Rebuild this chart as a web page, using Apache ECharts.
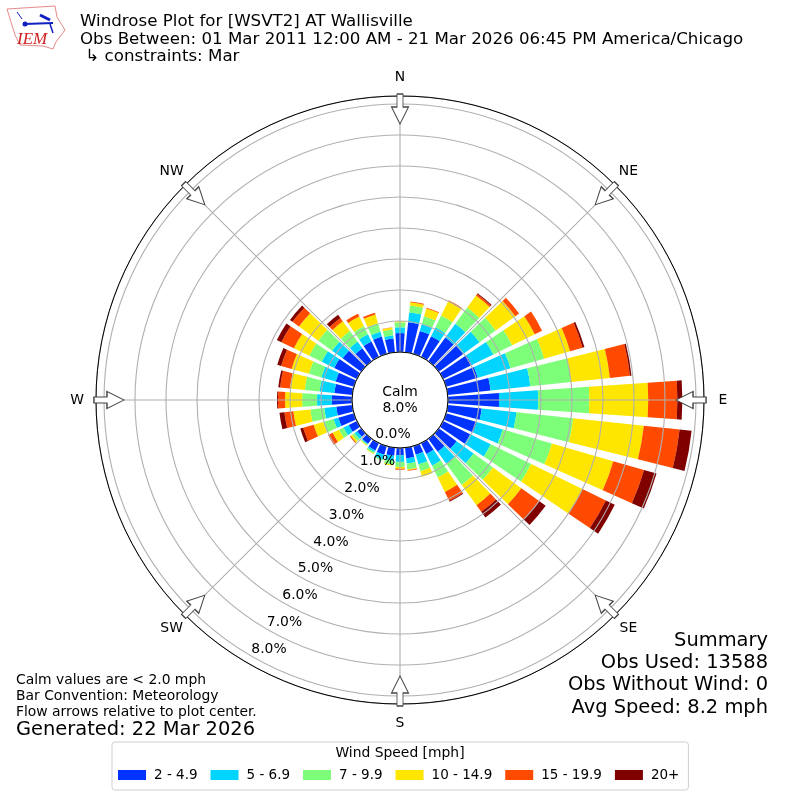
<!DOCTYPE html>
<html><head><meta charset="utf-8">
<style>html,body{margin:0;padding:0;background:#fff}#c{width:800px;height:800px}</style>
<script src="https://cdn.jsdelivr.net/npm/echarts@6/dist/echarts.min.js"></script>
</head><body><div id="c"></div>
<script>
const directions = Array.from({length:36},(_, i)=>String(i*10));
const speedBins = ['2 - 4.9','5 - 6.9','7 - 9.9','10 - 14.9','15 - 19.9','20+'];
const binColors = ['#0033ff','#00d4ff','#7dff7a','#ffe600','#ff4a00','#800000'];
const s2to5   = [0.61,0.97,0.77,0.74,0.94,0.97,1.03,1.06,1.39,1.65,1.10,1.03,0.97,0.71,0.52,0.39,0.29,0.35,0.23,0.26,0.29,0.26,0.20,0.16,0.29,0.52,0.52,0.65,0.58,0.61,0.81,0.74,0.52,0.55,0.58,0.45];
const s5to7   = [0.19,0.32,0.23,0.32,0.55,0.65,0.77,1.10,1.29,1.26,1.13,0.87,0.74,0.68,0.48,0.42,0.32,0.16,0.22,0.16,0.16,0.06,0.03,0.10,0.19,0.16,0.39,0.48,0.48,0.48,0.45,0.42,0.26,0.26,0.16,0.10];
const s7to10  = [0.16,0.23,0.26,0.42,0.65,0.65,0.68,1.13,1.32,1.65,1.84,1.65,1.45,0.77,0.84,0.42,0.23,0.19,0.16,0.13,0.03,0.05,0.03,0.10,0.16,0.35,0.45,0.48,0.48,0.42,0.45,0.55,0.42,0.29,0.29,0.19];
const s10to15 = [0.03,0.10,0.26,0.52,0.48,0.78,0.81,0.87,1.26,1.90,2.29,2.06,1.84,1.13,0.81,0.52,0.19,0.03,0.06,0.03,0.00,0.02,0.02,0.06,0.23,0.32,0.55,0.55,0.48,0.58,0.55,0.77,0.39,0.35,0.29,0.06];
const s15to20 = [0.00,0.03,0.03,0.03,0.06,0.15,0.26,0.42,0.65,0.94,1.16,1.03,0.84,0.71,0.26,0.32,0.00,0.02,0.03,0.00,0.00,0.00,0.00,0.03,0.16,0.35,0.29,0.23,0.32,0.35,0.45,0.26,0.13,0.10,0.06,0.01];
const s20plus = [0.00,0.00,0.00,0.00,0.03,0.00,0.00,0.06,0.05,0.16,0.39,0.42,0.32,0.26,0.23,0.03,0.00,0.00,0.00,0.00,0.00,0.00,0.00,0.00,0.00,0.10,0.16,0.03,0.06,0.13,0.16,0.10,0.13,0.00,0.00,0.00];
const seriesValues = [s2to5,s5to7,s7to10,s10to15,s15to20,s20plus];
const compassAngles = [0,45,90,135,180,225,270,315];
const compassLabels = ['N','NE','E','SE','S','SW','W','NW'];
const radiusTicks = [0,1,2,3,4,5,6,7,8];
const arrowRadius = 7.84;
const compassLabelRadius = 8.87;
const titleLines = ['Windrose Plot for [WSVT2] AT Wallisville','Obs Between: 01 Mar 2011 12:00 AM - 21 Mar 2026 06:45 PM America/Chicago',' \u21b3 constraints: Mar'];
const noteLines = ['Calm values are < 2.0 mph','Bar Convention: Meteorology','Flow arrows relative to plot center.'];
const generated = 'Generated: 22 Mar 2026';
const summaryLines = ['Summary','Obs Used: 13588','Obs Without Wind: 0','Avg Speed: 8.2 mph'];
const calmLines = ['Calm','8.0%'];

const FF = 'DejaVu Sans';
const RMAX = 8.258;
const GRID = '#b0b0b0';
const chart = echarts.init(document.getElementById('c'), null, {renderer:'canvas'});
const arrowPath = 'path://M8.5 0L17 17L11.5 17L11.5 30L5.5 30L5.5 17L0 17Z';
const txt = (x,y,text,size,align) => ({type:'text',x,y,z:20,silent:true,style:{text,fontFamily:FF,fontSize:size,fill:'#000',align:align||'left',verticalAlign:'middle'}});
const logo = [
 {type:'polygon',z:20,silent:true,shape:{points:[[7,9],[55,6],[57,17],[65,30],[56,42],[53,49],[43,46],[20,45],[15,35]]},style:{fill:'#fff',stroke:'#e68a8a',lineWidth:1}},
 {type:'line',z:20,silent:true,shape:{x1:25,y1:24,x2:53,y2:23},style:{stroke:'#1020c0',lineWidth:2}},
 {type:'line',z:20,silent:true,shape:{x1:40,y1:15,x2:50,y2:20},style:{stroke:'#1020c0',lineWidth:3}},
 {type:'line',z:20,silent:true,shape:{x1:17,y1:12,x2:22,y2:19},style:{stroke:'#1020c0',lineWidth:1}},
 {type:'line',z:20,silent:true,shape:{x1:50,y1:24,x2:53,y2:33},style:{stroke:'#1020c0',lineWidth:1.5}},
 {type:'circle',z:20,silent:true,shape:{cx:25,cy:24,r:2.5},style:{fill:'#1020c0'}},
 {type:'text',x:17,y:31,z:20,silent:true,style:{text:'IEM',fontFamily:'Liberation Serif',fontStyle:'italic',fontSize:17,fill:'#d02020'}}
];
const option = {
  animation:false,
  backgroundColor:'#fff',
  polar:[
    {center:[400,400],radius:[48,304]},
    {center:[400,400],radius:[48,304]},
    {center:[417,393],radius:[48,296]}
  ],
  angleAxis:[
    {polarIndex:0,type:'category',data:directions,startAngle:95,boundaryGap:true,z:3,
     axisLine:{show:false},axisTick:{show:false},axisLabel:{show:false},splitLine:{show:false}},
    {polarIndex:1,type:'value',min:0,max:360,interval:45,startAngle:90,z:3,
     axisLine:{show:true,lineStyle:{color:'#000',width:1}},axisTick:{show:false},
     axisLabel:{show:false},
     splitLine:{show:true,lineStyle:{color:GRID,width:1.1}}},
    {polarIndex:2,type:'value',min:0,max:360,startAngle:240,show:false}
  ],
  radiusAxis:[
    {polarIndex:0,type:'value',min:0,max:RMAX,interval:1,z:3,
     axisLine:{show:false},axisTick:{show:false},axisLabel:{show:false},
     splitLine:{show:true,lineStyle:{color:GRID,width:1.1}}},
    {polarIndex:1,type:'value',min:0,max:RMAX,show:false},
    {polarIndex:2,type:'value',min:radiusTicks[0],max:radiusTicks[8],interval:1,z:6,
     axisLine:{show:false},axisTick:{show:false},splitLine:{show:false},
     axisLabel:{show:true,margin:0,align:'center',verticalAlign:'middle',rotate:0,fontFamily:FF,fontSize:13.9,color:'#000',
       formatter:v=>v.toFixed(1)+'%'}}
  ],
  legend:{
    left:112,top:742,
    show:true,orient:'horizontal',
    data:speedBins,icon:'rect',itemWidth:28,itemHeight:10,itemGap:13,
    padding:[26,9,8,6],
    borderColor:'#cfcfcf',borderWidth:1,borderRadius:3,backgroundColor:'#fff',
    textStyle:{fontFamily:FF,fontSize:13.5,color:'#000',padding:[0,0,0,3]},
    selectedMode:false
  },
  series:[
    ...speedBins.map((name,i)=>({
      name,type:'bar',coordinateSystem:'polar',polarIndex:0,stack:'rose',
      barWidth:'80%',z:2,silent:true,
      itemStyle:{color:binColors[i]},
      data:seriesValues[i]
    })),
    {type:'scatter',coordinateSystem:'polar',polarIndex:1,z:5,silent:true,clip:false,
     symbol:arrowPath,symbolSize:[17,30],symbolKeepAspect:false,
     itemStyle:{color:'#fff',borderColor:'#444',borderWidth:1.1,opacity:1},
     data:compassAngles.map(a=>({value:[arrowRadius,a],symbolRotate:180-a}))},
    {type:'scatter',coordinateSystem:'polar',polarIndex:1,z:6,silent:true,clip:false,
     symbol:'circle',symbolSize:1,itemStyle:{color:'transparent'},
     label:{show:true,position:'inside',formatter:'{b}',fontFamily:FF,fontSize:13.9,color:'#000',opacity:1},
     data:compassAngles.map((a,i)=>({name:compassLabels[i],value:[compassLabelRadius,a]}))}
  ],
  graphic:[
    ...logo,
    ...titleLines.map((t,i)=>txt(80,[22,39.5,57][i],t,16.67)),
    ...noteLines.map((t,i)=>txt(16,[680.5,696.5,712.5][i],t,13.89)),
    txt(16,730,generated,19.44),
    ...summaryLines.map((t,i)=>txt(768,[641,663,685,707.5][i],t,19.44,'right')),
    ...calmLines.map((t,i)=>txt(400,[392,408][i],t,13.89,'center')),
    txt(400,753,'Wind Speed [mph]',13.89,'center')
  ]
};
chart.setOption(option);
</script></body></html>
